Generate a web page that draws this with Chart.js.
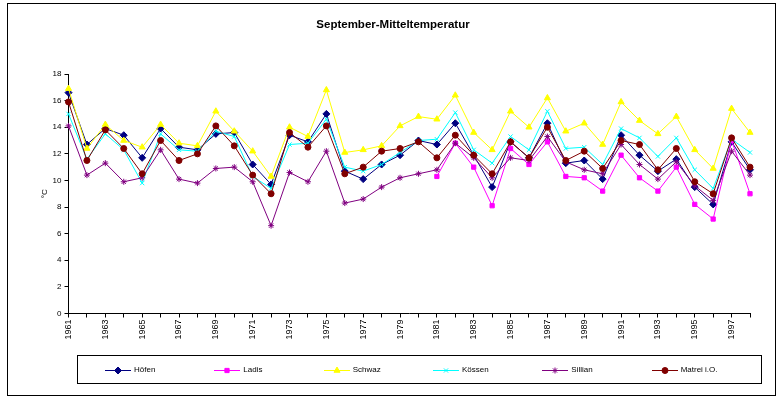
<!DOCTYPE html>
<html>
<head>
<meta charset="utf-8">
<script src="https://cdn.jsdelivr.net/npm/chart.js@4/dist/chart.umd.min.js"></script>
<style>
  html, body { margin: 0; padding: 0; background: #fff; }
  #wrap { position: relative; width: 782px; height: 398px; }
  #c { display: block; }
  #legend {
    position: absolute; left: 77px; top: 355px; width: 685px; height: 29px;
    box-sizing: border-box; border: 1px solid #000; padding-left: 27px;
    display: flex; align-items: center;
    font: 8px "Liberation Sans", Arial, sans-serif; color: #000;
  }
  .item { width: 113px; display: flex; align-items: center; white-space: nowrap; }
  .item canvas { margin-right: 3px; }
</style>
</head>
<body>
<div id="wrap">
  <canvas id="c" width="782" height="398"></canvas>
  <div id="legend"></div>
</div>
<script>
// Years on the category axis
const years = ['1961','1962','1963','1964','1965','1966','1967','1968','1969','1970',
               '1971','1972','1973','1974','1975','1976','1977','1978','1979','1980',
               '1981','1982','1983','1984','1985','1986','1987','1988','1989','1990',
               '1991','1992','1993','1994','1995','1996','1997','1998'];

// September mean temperature (°C) per station
const hoefen  = [16.6,12.7,13.9,13.4,11.7,13.9,12.5,12.3,13.5,13.6,
                 11.2, 9.7,13.4,12.9,15.0,10.7,10.1,11.2,11.9,13.0,
                 12.7,14.3,11.9, 9.5,12.9,11.7,14.3,11.3,11.5,10.1,
                 13.4,11.9,10.7,11.6, 9.5, 8.2,12.9,10.8];
const ladis   = [null,null,null,null,null,null,null,null,null,null,
                 null,null,null,null,null,null,null,null,null,null,
                 10.3,12.8,11.0, 8.1,12.4,11.2,12.9,10.3,10.2, 9.2,
                 11.9,10.2, 9.2,11.0, 8.2, 7.1,13.0, 9.0];
const schwaz  = [16.9,12.4,14.2,13.0,12.5,14.2,12.8,12.6,15.2,13.7,
                 12.2,10.3,14.0,13.3,16.8,12.1,12.3,12.6,14.1,14.8,
                 14.6,16.4,13.6,12.3,15.2,14.0,16.2,13.7,14.3,12.7,
                 15.9,14.5,13.5,14.8,12.3,10.9,15.4,13.6];
const koessen = [15.0,11.6,13.5,12.3, 9.8,13.5,12.3,12.2,13.7,13.3,
                 10.3, 9.4,12.7,12.8,14.6,11.0,10.7,11.2,12.1,13.0,
                 13.1,15.1,12.3,11.3,13.3,12.3,15.2,12.4,12.5,11.2,
                 13.9,13.2,11.8,13.2,10.8, 9.4,13.1,12.1];
const sillian = [14.1,10.4,11.3, 9.9,10.2,12.3,10.1, 9.8,10.9,11.0,
                  9.9, 6.6,10.6, 9.9,12.2, 8.3, 8.6, 9.5,10.2,10.5,
                 10.8,12.8,11.7,10.2,11.7,11.5,13.3,11.4,10.8,10.5,
                 12.7,11.2,10.1,11.4, 9.6, 8.5,12.2,10.4];
const matrei  = [15.9,11.5,13.8,12.4,10.5,13.0,11.5,12.0,14.1,12.6,
                 10.4, 9.0,13.6,12.5,14.1,10.5,11.0,12.2,12.4,12.9,
                 11.7,13.4,11.9,10.5,12.9,11.7,14.0,11.5,12.2,10.9,
                 13.0,12.7,10.8,12.4, 9.9, 9.0,13.2,11.0];

const stationNames = ['Höfen', 'Ladis', 'Schwaz', 'Kössen', 'Sillian', 'Matrei i.O.'];
const yTicks = { min: 0, max: 18, step: 2 };

Chart.defaults.font.family = '"Liberation Sans", Arial, sans-serif';
Chart.defaults.color = '#000';

function series(label, data, color, style, radius, order) {
  return {
    label, data, order,
    borderColor: color, backgroundColor: color,
    borderWidth: 1, tension: 0, spanGaps: false,
    pointStyle: style, pointRadius: radius, pointBorderWidth: 1,
    pointBackgroundColor: color, pointBorderColor: color
  };
}

const datasets = [
  series(stationNames[0], hoefen,  '#000080', 'rectRot',  3.5, 6),
  series(stationNames[1], ladis,   '#FF00FF', 'rect',     3,   5),
  series(stationNames[2], schwaz,  '#FFFF00', 'triangle', 3.5, 4),
  series(stationNames[3], koessen, '#00FFFF', 'crossRot', 3,   3),
  series(stationNames[4], sillian, '#800080', 'star',     3,   2),
  series(stationNames[5], matrei,  '#800000', 'circle',   3,   1)
];

// Thin frame round the whole chart
const framePlugin = {
  id: 'frame',
  beforeDraw(chart) {
    const ctx = chart.ctx;
    ctx.save();
    ctx.fillStyle = '#fff';
    ctx.fillRect(0, 0, chart.width, chart.height);
    ctx.strokeStyle = '#000';
    ctx.lineWidth = 1;
    ctx.strokeRect(7.5, 3.5, 768, 392);
    ctx.restore();
  }
};

const chart = new Chart(document.getElementById('c'), {
  type: 'line',
  data: { labels: years, datasets },
  options: {
    responsive: false,
    animation: false,
    layout: { padding: { left: 36, right: 32, top: 0, bottom: 44.5 } },
    plugins: {
      legend: { display: false },
      tooltip: { enabled: false },
      title: {
        display: true,
        text: 'September-Mitteltemperatur',
        color: '#000',
        font: { size: 11.5, weight: 'bold' },
        padding: { top: 18, bottom: 42.2 }
      }
    },
    scales: {
      x: {
        offset: false,
        grid: { drawOnChartArea: false, offset: false, tickLength: 4, color: '#000' },
        border: { color: '#000', width: 1 },
        ticks: {
          autoSkip: false, maxRotation: 90, minRotation: 90, padding: 2,
          font: { size: 9 }, color: '#000',
          callback: (v, i) => (i % 2 === 0 ? years[i] : '')
        },
        afterFit: s => { s.height = 40; }
      },
      y: {
        min: yTicks.min, max: yTicks.max,
        ticks: { stepSize: yTicks.step, font: { size: 8 }, color: '#000', padding: 3 },
        grid: { drawOnChartArea: false, tickLength: 4, color: '#000' },
        border: { color: '#000', width: 1 },
        title: { display: true, text: '°C', font: { size: 8 }, color: '#000' },
        afterFit: s => { s.width = 32.5; }
      }
    }
  },
  plugins: [framePlugin]
});

// Legend row: short line with the series marker, then the station name
const legendEl = document.getElementById('legend');
chart.data.datasets.forEach(ds => {
  const item = document.createElement('div');
  item.className = 'item';
  const sw = document.createElement('canvas');
  sw.width = 26; sw.height = 10;
  const g = sw.getContext('2d');
  g.strokeStyle = ds.borderColor; g.fillStyle = ds.borderColor; g.lineWidth = 1;
  g.beginPath(); g.moveTo(0, 5.5); g.lineTo(26, 5.5); g.stroke();
  Chart.helpers.drawPoint(g, { pointStyle: ds.pointStyle, radius: ds.pointRadius, rotation: 0, borderWidth: 1 }, 13, 5.5);
  const txt = document.createElement('span');
  txt.textContent = ds.label;
  item.appendChild(sw); item.appendChild(txt);
  legendEl.appendChild(item);
});
</script>
</body>
</html>
